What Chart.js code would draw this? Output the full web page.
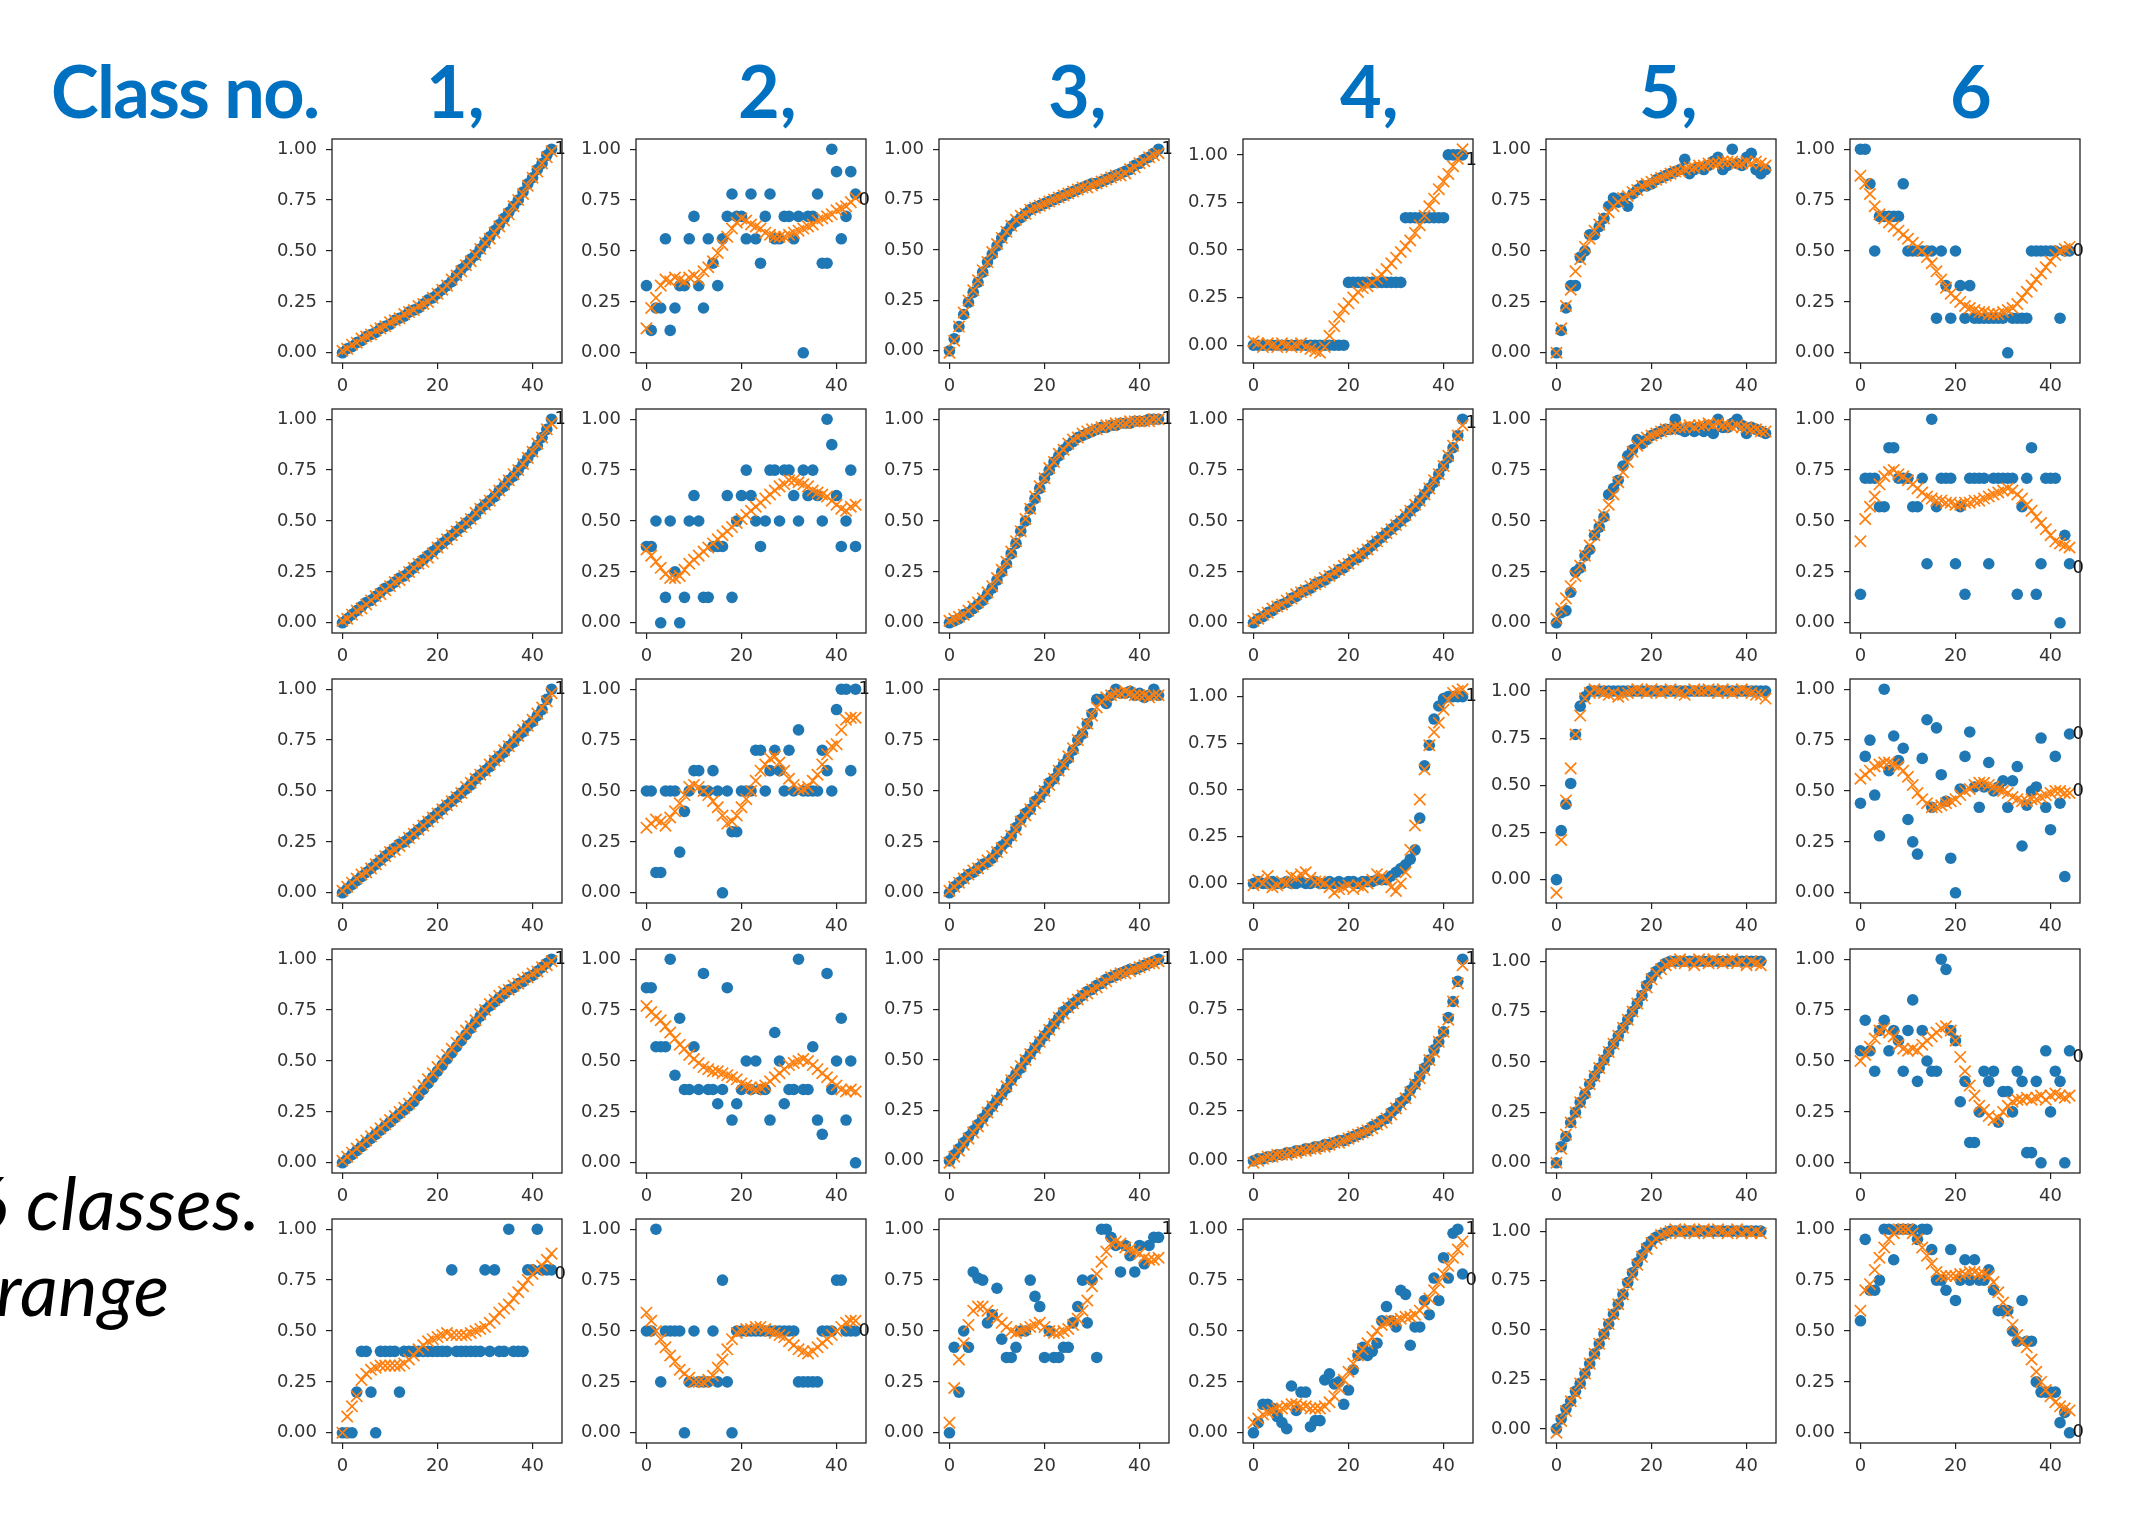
<!DOCTYPE html>
<html>
<head>
<meta charset="utf-8">
<script src="https://cdn.jsdelivr.net/npm/chart.js@4.4.1/dist/chart.umd.min.js"></script>
<style>
  html, body { margin: 0; padding: 0; background: #fff; }
  #page { position: relative; width: 2150px; height: 1513px; overflow: hidden; background: #fff; }
  .head { position: absolute; font-family: Lato, "Open Sans", sans-serif; font-weight: 700; color: #0070c0; font-size: 72px; line-height: 1; white-space: nowrap; }
  .head.title { letter-spacing: -1.6px; }
  .side { position: absolute; font-family: Lato, "Open Sans", sans-serif; font-style: italic; color: #000; font-size: 74px; line-height: 1; white-space: nowrap; letter-spacing: 0.6px; }
  canvas { position: absolute; }
</style>
</head>
<body>
<div id="page"></div>
<script>
// =====================================================
// DATA
// =====================================================

const headerTitle = "Class no.";
const classLabels = ["1,", "2,", "3,", "4,", "5,", "6"];
const sideLines = ["6 classes.", "range"];

const xTicks = [0, 20, 40];
const yTicks = [0, 0.25, 0.5, 0.75, 1];

// row 1
const blueR1C1 = [0.00,0.02,0.03,0.05,0.06,0.08,0.09,0.10,0.12,0.13,0.14,0.16,0.17,0.18,0.20,0.21,0.22,0.24,0.26,0.27,0.29,0.31,0.33,0.35,0.38,0.41,0.43,0.46,0.48,0.51,0.54,0.57,0.60,0.63,0.66,0.69,0.72,0.75,0.79,0.83,0.86,0.90,0.93,0.97,1.00];
const orangeR1C1 = [0.01,0.02,0.04,0.05,0.07,0.08,0.09,0.11,0.12,0.13,0.15,0.16,0.17,0.19,0.20,0.21,0.23,0.24,0.25,0.27,0.29,0.31,0.33,0.36,0.38,0.40,0.43,0.45,0.48,0.51,0.54,0.56,0.59,0.62,0.65,0.68,0.72,0.75,0.78,0.82,0.86,0.89,0.93,0.96,0.99];
const blueR1C2 = [0.33,0.11,0.22,0.22,0.56,0.11,0.22,0.33,0.33,0.56,0.67,0.33,0.22,0.56,0.44,0.33,0.56,0.67,0.78,0.67,0.67,0.56,0.78,0.56,0.44,0.67,0.78,0.56,0.56,0.67,0.67,0.56,0.67,0.00,0.67,0.67,0.78,0.44,0.44,1.00,0.89,0.56,0.67,0.89,0.78];
const orangeR1C2 = [0.12,0.22,0.27,0.33,0.36,0.35,0.37,0.36,0.35,0.37,0.38,0.36,0.40,0.42,0.45,0.49,0.53,0.57,0.61,0.64,0.66,0.65,0.63,0.62,0.61,0.59,0.58,0.57,0.57,0.57,0.58,0.59,0.60,0.61,0.62,0.63,0.65,0.66,0.67,0.68,0.70,0.71,0.72,0.74,0.76];
const blueR1C3 = [0.00,0.06,0.12,0.18,0.24,0.29,0.34,0.39,0.44,0.48,0.52,0.56,0.59,0.62,0.64,0.66,0.68,0.70,0.71,0.72,0.73,0.74,0.75,0.76,0.77,0.78,0.79,0.80,0.81,0.82,0.83,0.83,0.84,0.85,0.86,0.87,0.88,0.89,0.90,0.92,0.93,0.95,0.96,0.98,1.00];
const orangeR1C3 = [-0.01,0.05,0.12,0.19,0.25,0.30,0.35,0.40,0.44,0.49,0.53,0.56,0.59,0.62,0.65,0.67,0.68,0.70,0.71,0.72,0.73,0.74,0.75,0.76,0.77,0.78,0.79,0.80,0.81,0.81,0.82,0.83,0.84,0.85,0.86,0.87,0.87,0.88,0.90,0.91,0.93,0.94,0.96,0.97,0.98];
const blueR1C4 = [0,0,0,0,0,0,0,0,0,0,0,0,0,0,0,0,0,0,0,0,0.33,0.33,0.33,0.33,0.33,0.33,0.33,0.33,0.33,0.33,0.33,0.33,0.67,0.67,0.67,0.67,0.67,0.67,0.67,0.67,0.67,1.00,1.00,1.00,1.00];
const orangeR1C4 = [0.02,0.01,-0.01,0.01,0.00,-0.01,0.01,0.00,-0.01,0.00,0.01,-0.01,-0.02,-0.03,-0.04,-0.01,0.05,0.10,0.15,0.19,0.22,0.25,0.28,0.30,0.31,0.33,0.35,0.37,0.40,0.43,0.46,0.49,0.52,0.55,0.59,0.63,0.68,0.73,0.77,0.82,0.86,0.90,0.94,0.98,1.03];
const blueR1C5 = [0.00,0.11,0.22,0.33,0.33,0.47,0.50,0.58,0.58,0.62,0.66,0.72,0.76,0.74,0.76,0.72,0.78,0.80,0.82,0.82,0.83,0.85,0.86,0.87,0.88,0.89,0.90,0.95,0.88,0.90,0.91,0.90,0.92,0.94,0.96,0.90,0.92,1.00,0.93,0.92,0.96,0.98,0.90,0.88,0.90];
const orangeR1C5 = [0.00,0.12,0.23,0.31,0.40,0.46,0.52,0.56,0.60,0.63,0.66,0.69,0.72,0.74,0.76,0.77,0.79,0.80,0.82,0.83,0.84,0.85,0.86,0.87,0.88,0.89,0.89,0.90,0.91,0.91,0.92,0.92,0.93,0.93,0.93,0.94,0.94,0.94,0.93,0.93,0.94,0.93,0.94,0.93,0.92];
const blueR1C6 = [1.00,1.00,0.83,0.50,0.67,0.67,0.67,0.67,0.67,0.83,0.50,0.50,0.50,0.50,0.50,0.50,0.17,0.50,0.33,0.17,0.50,0.33,0.17,0.33,0.17,0.17,0.17,0.17,0.17,0.17,0.17,0.00,0.17,0.17,0.17,0.17,0.50,0.50,0.50,0.50,0.50,0.50,0.17,0.50,0.50];
const orangeR1C6 = [0.87,0.83,0.78,0.72,0.68,0.66,0.64,0.62,0.60,0.58,0.56,0.54,0.52,0.50,0.47,0.44,0.40,0.36,0.32,0.29,0.27,0.25,0.23,0.22,0.21,0.20,0.20,0.19,0.19,0.19,0.20,0.21,0.22,0.24,0.27,0.30,0.33,0.36,0.39,0.42,0.45,0.48,0.50,0.51,0.52];

// row 2
const blueR2C1 = [0.00,0.02,0.04,0.06,0.08,0.10,0.11,0.13,0.15,0.17,0.18,0.20,0.22,0.23,0.25,0.27,0.29,0.31,0.33,0.35,0.37,0.39,0.41,0.43,0.45,0.47,0.49,0.51,0.53,0.56,0.58,0.60,0.62,0.65,0.67,0.70,0.72,0.75,0.78,0.81,0.84,0.87,0.91,0.95,1.00];
const orangeR2C1 = [0.01,0.02,0.04,0.06,0.07,0.09,0.11,0.13,0.14,0.16,0.18,0.20,0.21,0.23,0.25,0.27,0.29,0.30,0.32,0.34,0.37,0.39,0.41,0.43,0.45,0.47,0.49,0.51,0.54,0.56,0.58,0.60,0.63,0.65,0.68,0.70,0.73,0.75,0.78,0.81,0.84,0.88,0.91,0.95,0.98];
const blueR2C2 = [0.375,0.375,0.5,0,0.125,0.5,0.25,0,0.125,0.5,0.625,0.5,0.125,0.125,0.375,0.375,0.375,0.625,0.125,0.5,0.625,0.75,0.625,0.5,0.375,0.5,0.75,0.75,0.5,0.75,0.75,0.625,0.5,0.75,0.625,0.75,0.625,0.5,1,0.875,0.625,0.375,0.5,0.75,0.375];
const orangeR2C2 = [0.36,0.33,0.30,0.27,0.24,0.22,0.22,0.23,0.26,0.29,0.31,0.33,0.35,0.37,0.39,0.41,0.43,0.45,0.47,0.49,0.51,0.53,0.55,0.57,0.59,0.61,0.63,0.65,0.67,0.68,0.70,0.70,0.69,0.68,0.67,0.65,0.64,0.63,0.62,0.60,0.58,0.56,0.55,0.57,0.58];
const blueR2C3 = [0.00,0.01,0.02,0.04,0.05,0.07,0.09,0.11,0.14,0.17,0.21,0.25,0.29,0.34,0.39,0.45,0.50,0.56,0.61,0.66,0.71,0.75,0.79,0.82,0.85,0.87,0.89,0.91,0.92,0.93,0.94,0.95,0.96,0.96,0.97,0.97,0.98,0.98,0.98,0.99,0.99,0.99,1.00,1.00,1.00];
const orangeR2C3 = [0.01,0.02,0.03,0.04,0.06,0.08,0.10,0.12,0.15,0.18,0.22,0.26,0.30,0.35,0.40,0.45,0.51,0.56,0.62,0.67,0.71,0.76,0.79,0.83,0.85,0.88,0.90,0.91,0.93,0.94,0.95,0.95,0.96,0.97,0.97,0.98,0.98,0.98,0.99,0.99,0.99,0.99,0.99,1.00,1.00];
const blueR2C4 = [0.00,0.02,0.03,0.05,0.06,0.08,0.09,0.10,0.12,0.13,0.15,0.16,0.17,0.19,0.20,0.21,0.23,0.24,0.26,0.27,0.29,0.31,0.32,0.34,0.36,0.38,0.40,0.42,0.44,0.46,0.48,0.50,0.52,0.55,0.57,0.60,0.63,0.66,0.69,0.73,0.77,0.81,0.86,0.92,1.00];
const orangeR2C4 = [0.01,0.02,0.04,0.05,0.07,0.08,0.09,0.11,0.12,0.14,0.15,0.16,0.18,0.19,0.20,0.22,0.23,0.25,0.26,0.28,0.29,0.31,0.33,0.34,0.36,0.38,0.40,0.42,0.44,0.46,0.48,0.50,0.53,0.55,0.58,0.60,0.63,0.66,0.70,0.73,0.77,0.82,0.87,0.92,0.97];
const blueR2C5 = [0.00,0.05,0.06,0.15,0.25,0.27,0.33,0.36,0.43,0.47,0.52,0.63,0.66,0.70,0.77,0.82,0.85,0.90,0.88,0.90,0.92,0.93,0.94,0.95,0.95,1.00,0.95,0.94,0.96,0.94,0.96,0.94,0.97,0.93,1.00,0.96,0.96,0.98,1.00,0.97,0.93,0.96,0.95,0.94,0.93];
const orangeR2C5 = [0.02,0.07,0.12,0.18,0.23,0.28,0.33,0.38,0.43,0.48,0.53,0.58,0.63,0.69,0.74,0.79,0.84,0.87,0.89,0.91,0.92,0.93,0.94,0.95,0.95,0.96,0.96,0.96,0.97,0.96,0.97,0.97,0.98,0.97,0.98,0.97,0.97,0.96,0.97,0.96,0.96,0.95,0.95,0.94,0.94];
const blueR2C6 = [0.14,0.71,0.71,0.71,0.57,0.57,0.86,0.86,0.71,0.71,0.71,0.57,0.57,0.71,0.29,1.00,0.57,0.71,0.71,0.71,0.29,0.57,0.14,0.71,0.71,0.71,0.71,0.29,0.71,0.71,0.71,0.71,0.71,0.14,0.57,0.71,0.86,0.14,0.29,0.71,0.71,0.71,0.00,0.43,0.29];
const orangeR2C6 = [0.40,0.51,0.57,0.62,0.68,0.72,0.74,0.75,0.73,0.72,0.70,0.68,0.66,0.64,0.62,0.61,0.60,0.60,0.59,0.59,0.58,0.58,0.59,0.59,0.60,0.60,0.61,0.62,0.63,0.64,0.65,0.66,0.65,0.63,0.61,0.58,0.55,0.52,0.49,0.46,0.43,0.40,0.39,0.38,0.37];

// row 3
const blueR3C1 = [0.00,0.02,0.04,0.06,0.08,0.10,0.12,0.14,0.16,0.18,0.20,0.22,0.24,0.25,0.27,0.29,0.31,0.33,0.35,0.37,0.39,0.41,0.43,0.45,0.47,0.49,0.51,0.53,0.56,0.58,0.60,0.62,0.65,0.67,0.69,0.72,0.74,0.77,0.79,0.82,0.84,0.87,0.90,0.95,1.00];
const orangeR3C1 = [0.01,0.03,0.05,0.07,0.09,0.10,0.12,0.14,0.16,0.18,0.20,0.21,0.23,0.25,0.27,0.29,0.31,0.33,0.35,0.37,0.39,0.41,0.43,0.45,0.47,0.49,0.52,0.54,0.56,0.58,0.60,0.63,0.65,0.67,0.70,0.72,0.75,0.77,0.80,0.82,0.85,0.88,0.91,0.94,0.98];
const blueR3C2 = [0.5,0.5,0.1,0.1,0.5,0.5,0.5,0.2,0.4,0.5,0.6,0.6,0.5,0.5,0.6,0.5,0.0,0.5,0.3,0.3,0.5,0.5,0.5,0.7,0.7,0.5,0.6,0.7,0.6,0.5,0.7,0.5,0.8,0.5,0.5,0.5,0.5,0.7,0.6,0.5,0.9,1.0,1.0,0.6,1.0];
const orangeR3C2 = [0.32,0.34,0.36,0.35,0.33,0.37,0.40,0.44,0.48,0.52,0.53,0.52,0.50,0.48,0.45,0.42,0.38,0.34,0.35,0.38,0.42,0.46,0.50,0.55,0.60,0.63,0.66,0.67,0.64,0.60,0.56,0.53,0.51,0.51,0.52,0.55,0.58,0.63,0.68,0.72,0.73,0.80,0.85,0.86,0.86];
const blueR3C3 = [0.00,0.03,0.05,0.07,0.09,0.10,0.12,0.14,0.15,0.17,0.20,0.23,0.25,0.28,0.32,0.36,0.39,0.41,0.45,0.47,0.50,0.54,0.56,0.60,0.63,0.66,0.70,0.75,0.78,0.83,0.88,0.95,0.95,0.93,0.97,1.00,0.98,0.98,0.99,0.97,0.98,0.96,0.97,1.00,0.97];
const orangeR3C3 = [0.01,0.03,0.05,0.07,0.09,0.11,0.12,0.14,0.16,0.18,0.20,0.22,0.25,0.28,0.31,0.35,0.38,0.41,0.44,0.47,0.50,0.53,0.56,0.60,0.63,0.67,0.71,0.75,0.79,0.83,0.87,0.91,0.94,0.96,0.97,0.98,0.98,0.99,0.98,0.97,0.97,0.97,0.96,0.97,0.97];
const blueR3C4 = [0.00,0.01,0.00,0.00,0.01,0.00,0.00,0.01,0.00,0.00,0.01,0.00,0.00,0.01,0.00,0.00,0.01,0.00,0.01,0.00,0.01,0.01,0.00,0.01,0.01,0.01,0.02,0.02,0.02,0.04,0.06,0.08,0.10,0.13,0.18,0.35,0.63,0.74,0.88,0.95,0.99,1.00,1.00,1.00,1.00];
const orangeR3C4 = [-0.01,0.02,0.00,0.04,-0.02,-0.01,0.01,0.00,0.04,0.03,0.05,0.06,0.03,0.01,0.01,0.00,-0.02,-0.05,-0.03,-0.02,-0.01,-0.03,-0.01,-0.02,0.00,0.02,0.05,0.04,0.02,-0.02,-0.04,0.00,0.06,0.18,0.31,0.45,0.61,0.74,0.81,0.86,0.93,0.98,1.02,1.03,1.04];
const blueR3C5 = [0.00,0.26,0.40,0.51,0.77,0.92,0.97,1.00,1.00,1.00,1.00,1.00,1.00,1.00,1.00,1.00,1.00,1.00,1.00,1.00,1.00,1.00,1.00,1.00,1.00,1.00,1.00,1.00,1.00,1.00,1.00,1.00,1.00,1.00,1.00,1.00,1.00,1.00,1.00,1.00,1.00,1.00,1.00,1.00,1.00];
const orangeR3C5 = [-0.07,0.21,0.42,0.59,0.77,0.87,0.96,0.99,1.01,1.00,0.99,0.98,0.99,0.97,0.98,0.99,1.00,1.01,1.00,0.99,1.01,1.00,0.99,1.00,1.01,1.00,0.99,0.98,1.00,1.01,1.00,1.00,1.01,1.00,0.99,1.01,1.00,0.99,1.00,1.01,1.00,0.99,0.98,0.98,0.96];
const blueR3C6 = [0.44,0.67,0.75,0.48,0.28,1.00,0.60,0.77,0.65,0.71,0.36,0.25,0.19,0.66,0.85,0.42,0.81,0.58,0.45,0.17,0.00,0.51,0.67,0.79,0.52,0.42,0.52,0.64,0.50,0.52,0.55,0.42,0.55,0.62,0.23,0.43,0.50,0.52,0.76,0.42,0.31,0.67,0.44,0.08,0.78];
const orangeR3C6 = [0.56,0.58,0.60,0.62,0.63,0.64,0.64,0.63,0.62,0.60,0.57,0.53,0.49,0.46,0.44,0.42,0.42,0.43,0.44,0.45,0.46,0.48,0.50,0.51,0.53,0.54,0.54,0.53,0.52,0.51,0.50,0.49,0.47,0.46,0.45,0.45,0.46,0.46,0.47,0.48,0.49,0.50,0.50,0.49,0.49];

// row 4
const blueR4C1 = [0.00,0.02,0.04,0.06,0.08,0.10,0.12,0.14,0.16,0.18,0.20,0.22,0.24,0.26,0.28,0.30,0.33,0.36,0.39,0.42,0.45,0.48,0.51,0.54,0.57,0.60,0.63,0.66,0.69,0.72,0.75,0.77,0.79,0.81,0.83,0.85,0.86,0.88,0.89,0.91,0.92,0.94,0.96,0.98,1.00];
const orangeR4C1 = [0.01,0.03,0.05,0.07,0.09,0.11,0.13,0.15,0.17,0.19,0.21,0.23,0.25,0.27,0.29,0.32,0.35,0.38,0.41,0.44,0.47,0.50,0.53,0.56,0.59,0.62,0.65,0.67,0.70,0.73,0.75,0.78,0.80,0.82,0.84,0.85,0.87,0.88,0.90,0.91,0.93,0.94,0.96,0.97,0.99];
const blueR4C2 = [0.86,0.86,0.57,0.57,0.57,1.00,0.43,0.71,0.36,0.36,0.57,0.36,0.93,0.36,0.36,0.29,0.36,0.86,0.21,0.29,0.36,0.50,0.36,0.50,0.36,0.36,0.21,0.64,0.50,0.29,0.36,0.36,1.00,0.36,0.36,0.57,0.21,0.14,0.93,0.36,0.50,0.71,0.21,0.50,0.00];
const orangeR4C2 = [0.77,0.74,0.72,0.70,0.67,0.64,0.61,0.58,0.56,0.53,0.51,0.49,0.47,0.46,0.45,0.45,0.44,0.43,0.42,0.41,0.39,0.38,0.37,0.36,0.37,0.38,0.40,0.42,0.44,0.46,0.48,0.49,0.50,0.51,0.50,0.48,0.46,0.44,0.42,0.40,0.38,0.36,0.35,0.36,0.35];
const blueR4C3 = [0.00,0.03,0.06,0.09,0.12,0.15,0.18,0.21,0.24,0.27,0.30,0.33,0.36,0.40,0.43,0.46,0.50,0.53,0.56,0.59,0.62,0.65,0.68,0.71,0.74,0.76,0.78,0.80,0.82,0.84,0.85,0.87,0.88,0.90,0.91,0.92,0.93,0.94,0.95,0.95,0.96,0.97,0.98,0.99,1.00];
const orangeR4C3 = [-0.01,0.02,0.05,0.08,0.11,0.14,0.17,0.20,0.24,0.27,0.30,0.33,0.37,0.40,0.44,0.47,0.50,0.53,0.56,0.59,0.62,0.65,0.68,0.71,0.73,0.76,0.78,0.80,0.82,0.83,0.85,0.86,0.88,0.89,0.91,0.92,0.93,0.93,0.94,0.95,0.96,0.97,0.98,0.98,0.99];
const blueR4C4 = [0.00,0.01,0.01,0.02,0.02,0.03,0.03,0.04,0.04,0.05,0.05,0.06,0.06,0.07,0.07,0.08,0.08,0.09,0.10,0.10,0.11,0.12,0.13,0.14,0.15,0.17,0.18,0.20,0.21,0.24,0.26,0.29,0.31,0.35,0.38,0.42,0.46,0.50,0.55,0.59,0.64,0.71,0.79,0.89,1.00];
const orangeR4C4 = [-0.01,0.00,0.01,0.02,0.02,0.03,0.03,0.03,0.04,0.04,0.05,0.05,0.06,0.06,0.07,0.07,0.08,0.09,0.09,0.10,0.11,0.12,0.13,0.14,0.15,0.16,0.18,0.19,0.21,0.23,0.26,0.28,0.31,0.34,0.38,0.41,0.45,0.50,0.54,0.59,0.64,0.70,0.79,0.88,0.97];
const blueR4C5 = [0.00,0.08,0.13,0.20,0.25,0.30,0.34,0.39,0.43,0.47,0.51,0.55,0.59,0.63,0.67,0.71,0.75,0.79,0.83,0.88,0.92,0.95,0.97,0.99,1.00,1.00,1.00,1.00,1.00,1.00,1.00,1.00,1.00,1.00,1.00,1.00,1.00,1.00,1.00,1.00,1.00,1.00,1.00,1.00];
const orangeR4C5 = [0.00,0.07,0.14,0.20,0.25,0.30,0.35,0.39,0.43,0.47,0.51,0.55,0.59,0.63,0.67,0.71,0.75,0.79,0.83,0.87,0.91,0.94,0.96,0.98,0.99,1.00,1.01,0.99,1.00,0.98,1.01,1.00,0.99,1.01,1.00,0.99,1.00,1.01,0.99,1.00,0.98,1.00,0.99,0.98];
const blueR4C6 = [0.55,0.70,0.55,0.45,0.65,0.70,0.55,0.65,0.60,0.45,0.65,0.80,0.40,0.65,0.50,0.45,0.45,1.00,0.95,0.65,0.60,0.30,0.40,0.10,0.10,0.25,0.45,0.40,0.45,0.20,0.35,0.35,0.25,0.45,0.40,0.05,0.05,0.40,0.00,0.55,0.25,0.45,0.40,0.00,0.55];
const orangeR4C6 = [0.50,0.53,0.57,0.61,0.65,0.66,0.64,0.62,0.58,0.56,0.55,0.56,0.55,0.58,0.60,0.62,0.64,0.66,0.67,0.65,0.60,0.52,0.45,0.38,0.33,0.28,0.26,0.23,0.21,0.22,0.25,0.28,0.30,0.31,0.31,0.32,0.31,0.32,0.33,0.31,0.33,0.34,0.33,0.32,0.33];

// row 5
const blueR5C1 = [0.0,0.0,0.0,0.2,0.4,0.4,0.2,0.0,0.4,0.4,0.4,0.4,0.2,0.4,0.4,0.4,0.4,0.4,0.4,0.4,0.4,0.4,0.4,0.8,0.4,0.4,0.4,0.4,0.4,0.4,0.8,0.4,0.8,0.4,0.4,1.0,0.4,0.4,0.4,0.8,0.8,1.0,0.8,0.8,0.8];
const orangeR5C1 = [0.00,0.08,0.13,0.18,0.26,0.29,0.31,0.32,0.33,0.33,0.33,0.33,0.33,0.34,0.36,0.38,0.41,0.43,0.45,0.46,0.47,0.48,0.49,0.48,0.48,0.48,0.48,0.49,0.50,0.51,0.52,0.54,0.56,0.59,0.61,0.63,0.66,0.69,0.72,0.75,0.78,0.80,0.82,0.85,0.88];
const blueR5C2 = [0.5,0.5,1.0,0.25,0.5,0.5,0.5,0.5,0.0,0.25,0.5,0.25,0.25,0.25,0.5,0.25,0.75,0.25,0.0,0.5,0.5,0.5,0.5,0.5,0.5,0.5,0.5,0.5,0.5,0.5,0.5,0.5,0.25,0.25,0.25,0.25,0.25,0.5,0.5,0.5,0.75,0.75,0.5,0.5,0.5];
const orangeR5C2 = [0.59,0.55,0.50,0.46,0.42,0.38,0.35,0.31,0.29,0.27,0.25,0.25,0.25,0.26,0.28,0.32,0.36,0.41,0.46,0.49,0.50,0.51,0.51,0.52,0.52,0.51,0.50,0.49,0.48,0.47,0.45,0.43,0.41,0.40,0.39,0.40,0.42,0.44,0.46,0.48,0.50,0.52,0.54,0.55,0.55];
const blueR5C3 = [0.00,0.42,0.20,0.50,0.42,0.79,0.76,0.75,0.54,0.58,0.71,0.46,0.37,0.37,0.42,0.50,0.50,0.75,0.67,0.62,0.37,0.50,0.37,0.37,0.42,0.42,0.54,0.62,0.75,0.54,0.75,0.37,1.00,1.00,0.96,0.92,0.79,0.92,0.87,0.79,0.92,0.83,0.92,0.96,0.96];
const orangeR5C3 = [0.05,0.22,0.36,0.44,0.53,0.60,0.62,0.62,0.60,0.58,0.56,0.54,0.52,0.50,0.49,0.50,0.51,0.52,0.53,0.54,0.52,0.50,0.49,0.49,0.50,0.51,0.53,0.56,0.60,0.65,0.72,0.78,0.84,0.89,0.93,0.94,0.93,0.91,0.90,0.89,0.88,0.86,0.85,0.85,0.86];
const blueR5C4 = [0.00,0.05,0.14,0.14,0.12,0.08,0.05,0.02,0.23,0.11,0.20,0.20,0.03,0.06,0.06,0.26,0.29,0.24,0.25,0.14,0.21,0.31,0.38,0.42,0.38,0.40,0.44,0.55,0.62,0.55,0.52,0.70,0.68,0.43,0.52,0.52,0.65,0.58,0.76,0.65,0.86,0.76,0.98,1.00,0.78];
const orangeR5C4 = [0.05,0.07,0.09,0.10,0.11,0.12,0.12,0.13,0.14,0.14,0.13,0.13,0.12,0.12,0.12,0.13,0.15,0.18,0.22,0.26,0.30,0.34,0.38,0.41,0.44,0.47,0.50,0.53,0.54,0.55,0.55,0.56,0.57,0.57,0.58,0.60,0.63,0.66,0.70,0.74,0.78,0.82,0.86,0.90,0.94];
const blueR5C5 = [0.00,0.05,0.10,0.14,0.19,0.23,0.28,0.33,0.38,0.43,0.48,0.53,0.58,0.63,0.68,0.74,0.79,0.84,0.88,0.92,0.95,0.97,0.98,0.99,1.00,1.00,1.00,1.00,1.00,1.00,1.00,1.00,1.00,1.00,1.00,1.00,1.00,1.00,1.00,1.00,1.00,1.00,1.00,1.00];
const orangeR5C5 = [-0.02,0.04,0.09,0.14,0.18,0.23,0.28,0.33,0.38,0.43,0.48,0.53,0.58,0.63,0.68,0.73,0.78,0.83,0.87,0.91,0.94,0.96,0.98,0.99,1.00,1.01,0.99,1.00,1.01,0.99,1.00,1.01,0.99,1.00,1.01,1.00,0.99,1.00,1.01,0.99,1.00,0.99,1.00,0.99];
const blueR5C6 = [0.55,0.95,0.70,0.70,0.75,1.00,1.00,0.85,1.00,1.00,1.00,1.00,0.95,1.00,1.00,0.90,0.75,0.75,0.70,0.90,0.65,0.75,0.85,0.75,0.85,0.75,0.75,0.80,0.70,0.60,0.60,0.60,0.50,0.45,0.65,0.45,0.45,0.25,0.20,0.20,0.20,0.20,0.05,0.10,0.00];
const orangeR5C6 = [0.60,0.70,0.73,0.80,0.86,0.91,0.95,0.98,1.00,1.00,1.00,0.98,0.95,0.91,0.87,0.83,0.79,0.77,0.77,0.77,0.77,0.78,0.78,0.79,0.79,0.78,0.78,0.77,0.74,0.69,0.64,0.59,0.53,0.48,0.45,0.42,0.36,0.30,0.25,0.21,0.18,0.15,0.13,0.12,0.11];

// labels clipped at the right edge of each panel: [text, y]
const tagsR1 = [[["1", 1.0]], [["0", 0.75]], [["1", 1.0]], [["1", 0.97]], [], [["0", 0.5]]];
const tagsR2 = [[["1", 1.0]], [], [["1", 1.0]], [["1", 0.98]], [], [["0", 0.27]]];
const tagsR3 = [[["1", 1.0]], [["1", 1.0]], [], [["1", 1.0]], [], [["0", 0.78], ["0", 0.5]]];
const tagsR4 = [[["1", 1.0]], [], [["1", 1.0]], [["1", 1.0]], [], [["0", 0.52]]];
const tagsR5 = [[["0", 0.78]], [["0", 0.5]], [["1", 1.0]], [["1", 1.0], ["0", 0.75]], [], [["0", 0.0]]];

const panels = [
  [[blueR1C1, orangeR1C1], [blueR1C2, orangeR1C2], [blueR1C3, orangeR1C3], [blueR1C4, orangeR1C4], [blueR1C5, orangeR1C5], [blueR1C6, orangeR1C6]],
  [[blueR2C1, orangeR2C1], [blueR2C2, orangeR2C2], [blueR2C3, orangeR2C3], [blueR2C4, orangeR2C4], [blueR2C5, orangeR2C5], [blueR2C6, orangeR2C6]],
  [[blueR3C1, orangeR3C1], [blueR3C2, orangeR3C2], [blueR3C3, orangeR3C3], [blueR3C4, orangeR3C4], [blueR3C5, orangeR3C5], [blueR3C6, orangeR3C6]],
  [[blueR4C1, orangeR4C1], [blueR4C2, orangeR4C2], [blueR4C3, orangeR4C3], [blueR4C4, orangeR4C4], [blueR4C5, orangeR4C5], [blueR4C6, orangeR4C6]],
  [[blueR5C1, orangeR5C1], [blueR5C2, orangeR5C2], [blueR5C3, orangeR5C3], [blueR5C4, orangeR5C4], [blueR5C5, orangeR5C5], [blueR5C6, orangeR5C6]]
];
const tags = [tagsR1, tagsR2, tagsR3, tagsR4, tagsR5];

// =====================================================
// LAYOUT
// =====================================================

const page = document.getElementById("page");

const PLOT_W = 230;
const PLOT_H = 224;
const AXIS_W = 66;     // room for y tick labels
const AXIS_H = 44;     // room for x tick labels
const PAD_T = 24;
const PAD_R = 14;

const colLeft = c => 332 + c * 303.5;
const rowTop = r => 138.5 + r * 270.1;

const BLUE = "#1f77b4";
const ORANGE = "#ff7f0e";
const TICK_FONT = { family: "DejaVu Sans", size: 18 };

// header
function addText(cls, text, left, top) {
  const el = document.createElement("div");
  el.className = cls;
  el.textContent = text;
  el.style.left = left + "px";
  el.style.top = top + "px";
  page.appendChild(el);
}

addText("head title", headerTitle, 51, 54);
const headLefts = [426, 738, 1048, 1340, 1639, 1950];
classLabels.forEach((t, i) => addText("head", t, headLefts[i], 54));

addText("side", sideLines[0], -32, 1165);
addText("side", sideLines[1], -4, 1251);

// =====================================================
// PLUGINS
// =====================================================

const framePlugin = {
  id: "frame",
  afterDraw(chart) {
    const a = chart.chartArea;
    const ctx = chart.ctx;
    ctx.save();
    ctx.strokeStyle = "#222";
    ctx.lineWidth = 1.3;
    ctx.strokeRect(a.left, a.top, a.right - a.left, a.bottom - a.top);
    ctx.restore();
  }
};

const edgeTagPlugin = {
  id: "edgeTags",
  afterDatasetsDraw(chart, args, opts) {
    if (!opts.items || !opts.items.length) return;
    const a = chart.chartArea;
    const ctx = chart.ctx;
    const xs = chart.scales.x;
    const ys = chart.scales.y;
    ctx.save();
    ctx.beginPath();
    ctx.rect(a.left, a.top - 12, a.right - a.left + opts.extra, a.bottom - a.top + 24);
    ctx.clip();
    ctx.fillStyle = "#111";
    ctx.font = "18px 'DejaVu Sans'";
    ctx.textBaseline = "middle";
    opts.items.forEach(([text, y]) => {
      ctx.fillText(text, xs.getPixelForValue(44.6), ys.getPixelForValue(y));
    });
    ctx.restore();
  }
};

// =====================================================
// CHARTS
// =====================================================

function toPoints(values) {
  return values.map((v, i) => ({ x: i, y: v }));
}

function makePanel(r, c) {
  const [blue, orange] = panels[r][c];

  const canvas = document.createElement("canvas");
  const w = AXIS_W + PLOT_W + PAD_R;
  const h = PAD_T + PLOT_H + AXIS_H;
  canvas.width = w;
  canvas.height = h;
  canvas.style.left = (colLeft(c) - AXIS_W) + "px";
  canvas.style.top = (rowTop(r) - PAD_T) + "px";
  canvas.style.width = w + "px";
  canvas.style.height = h + "px";
  page.appendChild(canvas);

  const all = blue.concat(orange);
  const lo = Math.min(...all);
  const hi = Math.max(...all);
  const margin = (hi - lo) * 0.05;

  return new Chart(canvas, {
    type: "scatter",
    data: {
      datasets: [
        {
          data: toPoints(blue),
          pointStyle: "circle",
          pointRadius: 5.8,
          backgroundColor: BLUE,
          borderColor: BLUE,
          borderWidth: 0,
          clip: 0,
          order: 1
        },
        {
          data: toPoints(orange),
          pointStyle: "crossRot",
          pointRadius: 8,
          backgroundColor: ORANGE,
          borderColor: ORANGE,
          borderWidth: 1.7,
          clip: 0,
          order: 0
        }
      ]
    },
    options: {
      responsive: false,
      animation: false,
      events: [],
      devicePixelRatio: 1,
      layout: { padding: { top: PAD_T, right: PAD_R, left: 0, bottom: 0 } },
      plugins: {
        legend: { display: false },
        tooltip: { enabled: false },
        edgeTags: { items: tags[r][c], extra: c === 5 ? 10 : 3 }
      },
      scales: {
        x: {
          type: "linear",
          min: -2.2,
          max: 46.2,
          afterBuildTicks: s => { s.ticks = xTicks.map(v => ({ value: v })); },
          afterFit: s => { s.height = AXIS_H; },
          border: { display: false },
          grid: { drawOnChartArea: false, drawTicks: true, tickLength: 6, color: "#222", lineWidth: 1.2 },
          ticks: { font: TICK_FONT, color: "#333", padding: 7, maxRotation: 0, callback: v => String(v) }
        },
        y: {
          type: "linear",
          min: lo - margin,
          max: hi + margin,
          afterBuildTicks: s => { s.ticks = yTicks.map(v => ({ value: v })); },
          afterFit: s => { s.width = AXIS_W; },
          border: { display: false },
          grid: { drawOnChartArea: false, drawTicks: true, tickLength: 6, color: "#222", lineWidth: 1.2 },
          ticks: { font: TICK_FONT, color: "#333", padding: 9, callback: v => Number(v).toFixed(2) }
        }
      }
    },
    plugins: [framePlugin, edgeTagPlugin]
  });
}

for (let r = 0; r < 5; r++) {
  for (let c = 0; c < 6; c++) {
    makePanel(r, c);
  }
}
</script>
</body>
</html>
